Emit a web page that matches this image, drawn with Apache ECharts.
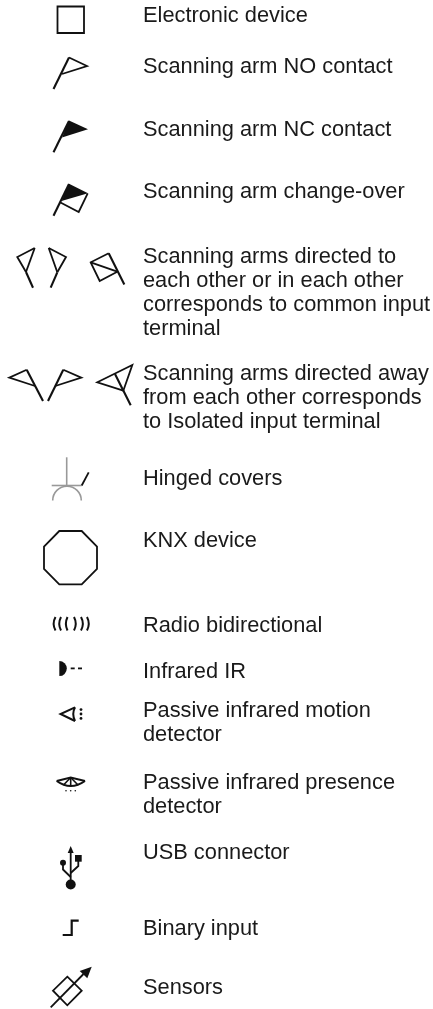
<!DOCTYPE html>
<html>
<head>
<meta charset="utf-8">
<title>Symbols</title>
<style>
html, body { margin: 0; padding: 0; background: #fff; }
#chart { width: 433px; height: 1009px; }
</style>
<script src="https://cdn.jsdelivr.net/npm/echarts@6/dist/echarts.min.js"></script>
</head>
<body>
<div id="chart"></div>
<script>
// one list of text lines per legend row
var labels = [
    ["Electronic device"],
    ["Scanning arm NO contact"],
    ["Scanning arm NC contact"],
    ["Scanning arm change-over"],
    ["Scanning arms directed to", "each other or in each other", "corresponds to common input", "terminal"],
    ["Scanning arms directed away", "from each other corresponds", "to Isolated input terminal"],
    ["Hinged covers"],
    ["KNX device"],
    ["Radio bidirectional"],
    ["Infrared IR"],
    ["Passive infrared motion", "detector"],
    ["Passive infrared presence", "detector"],
    ["USB connector"],
    ["Binary input"],
    ["Sensors"]
];
var symbolNames = ["device", "armNO", "armNC", "armChange", "armsTo", "armsAway", "hinge", "knx",
    "radio", "infrared", "pir", "presence", "usb", "binary", "sensor"];

// layout, in axis units (1 unit = 1 px)
var textX = 143;
var lineStep = 24;
var baselines = [21, 72, 135, 197, 262, 379, 484, 546, 631, 677, 716, 788, 858, 934, 993];
var BLACK = "#111", GREY = "#999";
var THIN = 1.8, STEM = 2.1;

// drawing helpers, all points go through the axes
function makeKit(api) {
    function c(p) { return api.coord(p); }
    return {
        line: function(pts, w, color, closed) {
            return {
                type: closed ? "polygon" : "polyline",
                shape: { points: pts.map(c) },
                style: { stroke: color || BLACK, lineWidth: w || THIN, fill: closed ? "#fff" : null, lineJoin: "miter" }
            };
        },
        fill: function(pts) {
            return { type: "polygon", shape: { points: pts.map(c) }, style: { fill: BLACK } };
        },
        dot: function(p, r) {
            var q = c(p);
            return { type: "circle", shape: { cx: q[0], cy: q[1], r: r }, style: { fill: BLACK } };
        },
        curve: function(a, ctrl, b, w) {
            var p = c(a), q = c(b), k = c(ctrl);
            return {
                type: "bezierCurve",
                shape: { x1: p[0], y1: p[1], x2: q[0], y2: q[1], cpx1: k[0], cpy1: k[1] },
                style: { stroke: BLACK, lineWidth: w || THIN, fill: null }
            };
        },
        arc: function(p, r, from, to, w, color) {
            var q = c(p);
            return {
                type: "arc",
                shape: { cx: q[0], cy: q[1], r: r, startAngle: from, endAngle: to },
                style: { stroke: color, lineWidth: w, fill: null }
            };
        },
        half: function(p, r) {
            var q = c(p);
            return {
                type: "sector",
                shape: { cx: q[0], cy: q[1], r: r, r0: 0, startAngle: -Math.PI / 2, endAngle: Math.PI / 2 },
                style: { fill: BLACK }
            };
        }
    };
}

var painters = {
    device: function(k) {
        return [k.line([[57.5, 6.5], [84, 6.5], [84, 33], [57.5, 33]], THIN, BLACK, true)];
    },
    armNO: function(k) {
        return [
            k.line([[69, 57.5], [87, 66], [62, 74]], THIN),
            k.line([[69, 57.5], [53.5, 89]], STEM)
        ];
    },
    armNC: function(k) {
        return [
            k.fill([[69, 120.5], [88, 129.3], [62, 137.5]]),
            k.line([[69, 121], [53.5, 152.3]], STEM)
        ];
    },
    armChange: function(k) {
        return [
            k.line([[60, 202.3], [78.7, 212], [87.7, 193.3]], THIN),
            k.fill([[69, 183.8], [88, 193.2], [61.5, 201]]),
            k.line([[69, 184], [53.5, 215.7]], STEM)
        ];
    },
    armsTo: function(k) {
        return [
            k.line([[34.7, 248], [17.3, 257], [26, 272]], THIN),
            k.line([[34.7, 248], [26, 272]], THIN),
            k.line([[26, 272], [33, 287.7]], STEM),
            k.line([[48.7, 248], [66, 257], [57.3, 272.3]], THIN),
            k.line([[48.7, 248], [57.3, 272.3]], THIN),
            k.line([[57.3, 272.3], [50.7, 287.7]], STEM),
            k.line([[108.7, 253.3], [90.7, 262.3], [99.7, 281], [117.3, 271.7]], THIN),
            k.line([[90.7, 262.3], [117.3, 271.7]], THIN),
            k.line([[108.7, 253.3], [124.3, 284.5]], STEM)
        ];
    },
    armsAway: function(k) {
        return [
            k.line([[26.7, 369.7], [9.3, 377.7], [35, 386]], THIN),
            k.line([[26.7, 369.7], [43, 401]], STEM),
            k.line([[63.3, 369.7], [81.3, 377.7], [55.3, 386]], THIN),
            k.line([[63.3, 369.7], [48, 401]], STEM),
            k.line([[123.3, 390.7], [97.3, 382.3], [132.3, 365], [123.3, 390.7]], THIN),
            k.line([[115, 374], [130.7, 405.3]], STEM)
        ];
    },
    hinge: function(k) {
        return [
            k.line([[66.7, 457.3], [66.7, 485.5]], 1.6, GREY),
            k.line([[51.7, 485.5], [81.7, 485.5]], 1.6, GREY),
            k.arc([67, 500.5], 14.3, Math.PI, 2 * Math.PI, 1.6, GREY),
            k.line([[81.7, 485.5], [88.7, 472.3]], THIN)
        ];
    },
    knx: function(k) {
        return [k.line([[59.3, 531], [81.7, 531], [97, 546.7], [97, 569], [81.7, 584.3], [59.3, 584.3], [44, 569], [44, 546.7]], THIN, BLACK, true)];
    },
    radio: function(k) {
        var out = [], xs = [[55.5, 53], [61, 58.7], [67.5, 65.5]], ys = [[87, 89.3], [81, 83.5], [74, 76.3]];
        xs.forEach(function(x) { out.push(k.curve([x[0], 617], [x[1] - 1.2, 623.7], [x[0], 630.5], 2)); });
        ys.forEach(function(x) { out.push(k.curve([x[0], 617], [x[1] + 1.2, 623.7], [x[0], 630.5], 2)); });
        return out;
    },
    infrared: function(k) {
        return [
            k.half([59.3, 668.6], 7.5),
            k.line([[70.7, 668.4], [74.7, 668.4]], THIN),
            k.line([[78, 668.4], [82, 668.4]], THIN)
        ];
    },
    pir: function(k) {
        return [
            k.line([[75, 707.3], [60.5, 714], [75, 721]], 2),
            k.curve([75, 707.3], [71.5, 714], [75, 721], 2),
            k.dot([81, 709.6], 1.4),
            k.dot([81, 714], 1.4),
            k.dot([81, 718.4], 1.4)
        ];
    },
    presence: function(k) {
        return [
            k.line([[85, 781], [70.7, 777.5], [56.7, 781]], 2),
            k.curve([56.7, 781], [70.7, 791], [85, 781], 2),
            k.line([[70.7, 777.5], [63.5, 785]], 1.6),
            k.line([[70.7, 777.5], [70.7, 786.5]], 1.6),
            k.line([[70.7, 777.5], [78, 785]], 1.6),
            k.dot([66, 790.7], 0.8),
            k.dot([70.7, 790.7], 0.8),
            k.dot([75.3, 790.7], 0.8)
        ];
    },
    usb: function(k) {
        return [
            k.fill([[70.7, 846], [67.7, 853], [73.7, 853]]),
            k.line([[70.7, 852], [70.7, 882]], THIN),
            k.dot([63, 862.7], 3),
            k.line([[63, 864], [63, 869.5], [70.7, 877]], THIN),
            k.fill([[75, 855], [81.7, 855], [81.7, 861.7], [75, 861.7]]),
            k.line([[78.3, 861], [78.3, 866], [70.7, 873]], THIN),
            k.dot([70.7, 884.5], 5)
        ];
    },
    binary: function(k) {
        return [k.line([[62.7, 935], [71.7, 935], [71.7, 920.7], [78.7, 920.7]], 2.2)];
    },
    sensor: function(k) {
        return [
            k.line([[67.3, 976.7], [81.7, 990.7], [67.3, 1005.3], [53, 990.7]], THIN, BLACK, true),
            k.line([[50.7, 1007.3], [83.5, 974]], THIN),
            k.fill([[91.7, 966.7], [79.7, 971], [87.3, 978.3]])
        ];
    }
};

// flatten the label rows into text lines
var textRows = [];
labels.forEach(function(lines, i) {
    lines.forEach(function(t, j) {
        textRows.push([textX, baselines[i] + j * lineStep, t]);
    });
});

var myChart = echarts.init(document.getElementById("chart"));
myChart.setOption({
    animation: false,
    backgroundColor: "#fff",
    grid: { left: 0, right: 0, top: 0, bottom: 0 },
    xAxis: { type: "value", min: 0, max: 433, show: false },
    yAxis: { type: "value", min: 0, max: 1009, inverse: true, show: false },
    series: [{
        type: "custom",
        silent: true,
        clip: false,
        coordinateSystem: "cartesian2d",
        data: symbolNames.map(function(n, i) { return [i, 0]; }),
        renderItem: function(params, api) {
            var kit = makeKit(api);
            return { type: "group", children: painters[symbolNames[params.dataIndex]](kit) };
        }
    }, {
        type: "custom",
        silent: true,
        clip: false,
        coordinateSystem: "cartesian2d",
        data: textRows,
        renderItem: function(params, api) {
            var row = textRows[params.dataIndex];
            var p = api.coord([row[0], row[1]]);
            return {
                type: "text",
                style: {
                    x: p[0], y: p[1] - 16.4, text: row[2],
                    font: '21.8px "Liberation Sans", Arial, sans-serif',
                    fill: "#1a1a1a", verticalAlign: "top", align: "left"
                }
            };
        }
    }]
});
</script>
</body>
</html>
